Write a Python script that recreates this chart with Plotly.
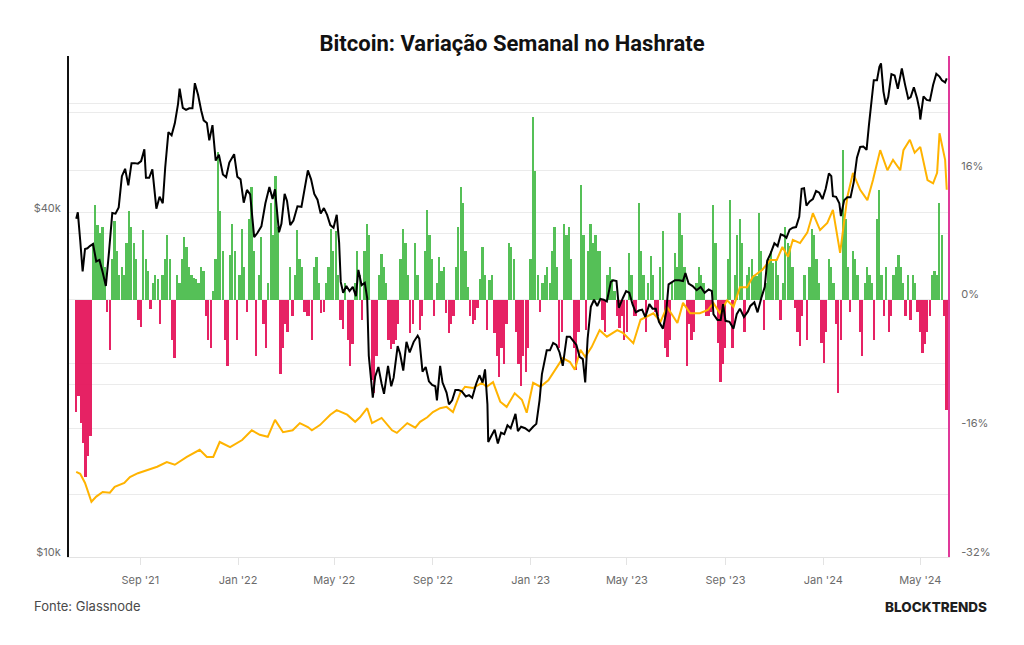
import plotly.graph_objects as go
import pandas as pd

# ---------------- DATA ----------------
title_text = "Bitcoin: Variação Semanal no Hashrate"
source_text = "Fonte: Glassnode"
brand_text = "BLOCKTRENDS"

# weekly hashrate change (%), one bar every 3 days starting 2021-06-13
bar_start = "2021-06-13"
hash_change = [
    -14, -12, -15.4, -17.8, -22, -19.5, -17, 7, 11.7, 9.2, 8.3, 9, 4, -1.5, -6.3, 5, 9.7, 6, 3, 4,
    3, 7, 11, 9, 7, 5, -2.5, -3.4, 8.6, 5, 3.5, -1.2, 2, 3, 2.5, -3, 3, 5, 8, 5,
    -5, -7.3, 3, 2, 5, 7.8, 6.5, 4, 3, 2.7, 2.5, 2, 4, 3.5, -2, -5, -6, 1, 5, 18.3,
    11, 6, -5, -8.3, 5.5, 9.4, 6, -5, 3, 8.8, 4, -1.5, 10, 14, 6, -7, 3, 7.8, -3, -6,
    2, 12, 8, 15.4, 9, -9.2, -6, -3, -4, 4, -2, 3, 8.6, 5, 4, -1.5, -2, -2,
    -5, 4, 5.3, 2, -1.7, -1.5, 2, 4, 8.8, 6, 8.5, 3, -2.5, -3.7, 2, -5, -8.3, -5.5, 2, 6,
    3, -2.5, 6, 9.4, 8, -10, -11.6, -7, 3, 5.7, 4, 2, -5, -6.2, -5.5, -5, -3, 5, 8.8, 7,
    3, -4.2, -3, 7, 3, -3.8, -2, 6, 11.1, 8, 5, -2, 2, 5.3, 3.5, 4, -1.7, -4.2, -3, -2,
    4, 9, 14, 12, 6, 1.5, -2, -3, -2.5, -1, 2.5, 6.5, 3, -3.8, 2.4, 3, -4.2, -7, -9.6, -6,
    -8, -3, 7, 6.5, 5, -4, -8, -10.8, -7, -9, -6, 5, 22.7, 16, 3, -1.5, 2, 3, 4, 2,
    6, 9, 4, -6, -4, 9.4, 8, 9, 5, -6, -8.7, -4, 14.2, 8, -3.8, 6, 9.4, 7, 8, 6,
    6, -2.5, -4, 3, 4, 2.5, 1, -2, -3.5, -2, -5, -4, 5.8, 3, -2, -2, 12, 6, 3, -4,
    2, 5.4, 3, -1.5, -2, 4, 8.5, -6, -7.2, -5, 2, 5.8, 4, 10.8, 8, 4, -8.3, -3, -5, -4,
    2, 4, 3, 2, -2, -2, -1.5, 11.8, 7, -5.4, -10.3, -8, -6, 5, 12.4, -6, 3, 8, 10, 7,
    -4, 3, 4, 5, 3, 2.9, 10.8, 6, -3.8, 2, 5, 6, 4.5, 5, 3, -2.5, 2, 9, 7, 6.6,
    4, -1, -4, -5.8, -2, 3, -5, 4, 8.7, 8, 5, 2, -5.4, -7.9, -4, 5, 4, 2, -3, -11.6,
    -5, 18.6, 10, 4, -1.5, 6, 5, 3, -4, -7, 2, 4, 3, 2, -5, 10, 13.6, 3, -2, 4,
    -4, -2, 3, 4, 5.5, 4, 2, -2, 3, -2.5, 3, 2, -1.5, -4, -6.6, -5.5, -4, -2, 3, 3.5,
    3, 12, 8, -2, -13.7,
]

price_dates = [
    "2021-06-13", "2021-06-15", "2021-06-18", "2021-06-21", "2021-06-24", "2021-06-27", "2021-06-30",
    "2021-07-04", "2021-07-08", "2021-07-12", "2021-07-16", "2021-07-20", "2021-07-24", "2021-07-28",
    "2021-08-01", "2021-08-05", "2021-08-09", "2021-08-13", "2021-08-17", "2021-08-21", "2021-08-25",
    "2021-08-29", "2021-09-02", "2021-09-06", "2021-09-08", "2021-09-12", "2021-09-16", "2021-09-21",
    "2021-09-25", "2021-09-29", "2021-10-02", "2021-10-06", "2021-10-10", "2021-10-14", "2021-10-18",
    "2021-10-20", "2021-10-24", "2021-10-28", "2021-11-01", "2021-11-05", "2021-11-08", "2021-11-12",
    "2021-11-16", "2021-11-19", "2021-11-23", "2021-11-26", "2021-11-30", "2021-12-04", "2021-12-08",
    "2021-12-13", "2021-12-17", "2021-12-21", "2021-12-27", "2021-12-31", "2022-01-04", "2022-01-08",
    "2022-01-12", "2022-01-16", "2022-01-21", "2022-01-25", "2022-01-30", "2022-02-04", "2022-02-09",
    "2022-02-13", "2022-02-16", "2022-02-21", "2022-02-24", "2022-02-28", "2022-03-03", "2022-03-07",
    "2022-03-11", "2022-03-16", "2022-03-21", "2022-03-25", "2022-03-29", "2022-04-02", "2022-04-06",
    "2022-04-10", "2022-04-14", "2022-04-18", "2022-04-22", "2022-04-26", "2022-04-30", "2022-05-04",
    "2022-05-07", "2022-05-09", "2022-05-12", "2022-05-16", "2022-05-20", "2022-05-24", "2022-05-28",
    "2022-05-31", "2022-06-04", "2022-06-08", "2022-06-11", "2022-06-13", "2022-06-16", "2022-06-18",
    "2022-06-21", "2022-06-25", "2022-06-29", "2022-07-02", "2022-07-07", "2022-07-11", "2022-07-14",
    "2022-07-19", "2022-07-22", "2022-07-26", "2022-07-30", "2022-08-03", "2022-08-08", "2022-08-13",
    "2022-08-15", "2022-08-19", "2022-08-23", "2022-08-27", "2022-08-31", "2022-09-04", "2022-09-06",
    "2022-09-10", "2022-09-13", "2022-09-18", "2022-09-21", "2022-09-25", "2022-09-29", "2022-10-03",
    "2022-10-07", "2022-10-12", "2022-10-16", "2022-10-20", "2022-10-25", "2022-10-29", "2022-11-02",
    "2022-11-05", "2022-11-08", "2022-11-09", "2022-11-13", "2022-11-17", "2022-11-21", "2022-11-25",
    "2022-11-29", "2022-12-03", "2022-12-07", "2022-12-13", "2022-12-16", "2022-12-20", "2022-12-25",
    "2022-12-30", "2023-01-04", "2023-01-08", "2023-01-12", "2023-01-15", "2023-01-21", "2023-01-25",
    "2023-01-29", "2023-02-02", "2023-02-06", "2023-02-10", "2023-02-15", "2023-02-19", "2023-02-23",
    "2023-02-27", "2023-03-03", "2023-03-07", "2023-03-10", "2023-03-13", "2023-03-17", "2023-03-21",
    "2023-03-25", "2023-03-29", "2023-04-02", "2023-04-06", "2023-04-11", "2023-04-14", "2023-04-18",
    "2023-04-21", "2023-04-26", "2023-04-30", "2023-05-04", "2023-05-08", "2023-05-12", "2023-05-16",
    "2023-05-20", "2023-05-24", "2023-05-29", "2023-06-02", "2023-06-06", "2023-06-10", "2023-06-15",
    "2023-06-19", "2023-06-22", "2023-06-26", "2023-06-30", "2023-07-05", "2023-07-10", "2023-07-13",
    "2023-07-17", "2023-07-22", "2023-07-27", "2023-08-01", "2023-08-06", "2023-08-11", "2023-08-15",
    "2023-08-17", "2023-08-22", "2023-08-26", "2023-08-29", "2023-09-01", "2023-09-06", "2023-09-11",
    "2023-09-15", "2023-09-19", "2023-09-24", "2023-09-29", "2023-10-02", "2023-10-07", "2023-10-11",
    "2023-10-16", "2023-10-20", "2023-10-23", "2023-10-27", "2023-11-01", "2023-11-05", "2023-11-09",
    "2023-11-13", "2023-11-16", "2023-11-20", "2023-11-24", "2023-11-28", "2023-12-02", "2023-12-05",
    "2023-12-08", "2023-12-11", "2023-12-15", "2023-12-19", "2023-12-23", "2023-12-27", "2023-12-31",
    "2024-01-04", "2024-01-08", "2024-01-11", "2024-01-13", "2024-01-17", "2024-01-21", "2024-01-23",
    "2024-01-27", "2024-01-31", "2024-02-04", "2024-02-08", "2024-02-12", "2024-02-16", "2024-02-20",
    "2024-02-24", "2024-02-27", "2024-02-29", "2024-03-04", "2024-03-08", "2024-03-11", "2024-03-13",
    "2024-03-16", "2024-03-19", "2024-03-22", "2024-03-26", "2024-03-30", "2024-04-03", "2024-04-08",
    "2024-04-12", "2024-04-16", "2024-04-19", "2024-04-23", "2024-04-27", "2024-04-30", "2024-05-01",
    "2024-05-05", "2024-05-09", "2024-05-13", "2024-05-17", "2024-05-21", "2024-05-25", "2024-05-28",
    "2024-06-01", "2024-06-03",
]
price_values = [
    39100, 40100, 35800, 31600, 34600, 34700, 35000,
    35300, 32900, 33100, 31500, 29800, 34300, 40000,
    39900, 40900, 46400, 47800, 44700, 48900, 48900,
    48800, 49300, 51700, 46100, 46100, 47700, 40700,
    42700, 41600, 48000, 55400, 54700, 57400, 62000,
    66000, 61100, 60600, 61000, 61000, 67500, 64400,
    60400, 58100, 57500, 53600, 57000, 49400, 50600,
    46700, 46200, 49000, 50700, 46300, 45800, 41700,
    43900, 43100, 36300, 36900, 37900, 41600, 44400,
    42300, 44000, 37000, 38300, 43200, 42000, 38100,
    38800, 41100, 41000, 44300, 47500, 45800, 43200,
    42200, 39900, 40800, 39700, 38100, 37700, 39700,
    35500, 30300, 29000, 29800, 29200, 29700, 28600,
    31800, 29900, 30200, 28400, 22500, 20400, 19000,
    20700, 21500, 20100, 19300, 21600, 19900, 20600,
    23400, 22700, 21200, 23800, 22800, 23800, 24400,
    24100, 21100, 21500, 20300, 20000, 19900, 18800,
    21600, 20200, 19400, 18500, 18800, 19600, 19600,
    19500, 19100, 19200, 19000, 20100, 20800, 20200,
    21300, 18500, 15900, 16300, 16700, 15800, 16500,
    16400, 17000, 16800, 17800, 16600, 16900, 16800,
    16600, 16900, 17100, 18800, 20900, 23000, 23000,
    23700, 23500, 22800, 21600, 24300, 24300, 23900,
    23500, 22400, 22200, 20200, 24100, 27400, 28200,
    27500, 28300, 28200, 28000, 30300, 30500, 30400,
    27300, 28400, 29200, 29000, 27700, 26800, 27000,
    27100, 26300, 27700, 27200, 27200, 25800, 25100,
    26800, 30000, 30300, 30500, 30500, 30400, 31400,
    30100, 29800, 29300, 29700, 29000, 29400, 29200,
    26600, 26000, 26000, 27700, 25900, 25800, 25100,
    26600, 27200, 26300, 26900, 27500, 27900, 26800,
    28500, 29700, 33000, 33900, 35400, 35000, 36700,
    36500, 36200, 37400, 37700, 37800, 39400, 44100,
    44200, 41200, 41900, 42300, 43700, 43400, 42300,
    44100, 46900, 46400, 42800, 42700, 41600, 39500,
    42100, 42600, 42600, 45300, 50000, 52200, 52300,
    51600, 57100, 61200, 68300, 68300, 72100, 73100,
    65300, 61900, 63800, 70000, 69600, 66000, 71600,
    67100, 63400, 63800, 66400, 63500, 60600, 58300,
    64000, 63100, 62900, 67000, 70100, 69300, 68300,
    67700, 68800,
]

hash_dates = [
    "2021-06-13", "2021-06-18", "2021-06-24", "2021-07-02", "2021-07-08", "2021-07-16", "2021-07-25",
    "2021-07-31", "2021-08-12", "2021-08-19", "2021-08-29", "2021-09-09", "2021-09-22", "2021-10-04",
    "2021-10-14", "2021-10-29", "2021-11-14", "2021-11-23", "2021-12-01", "2021-12-09", "2021-12-22",
    "2022-01-06", "2022-01-18", "2022-01-28", "2022-02-07", "2022-02-16", "2022-02-26", "2022-03-10",
    "2022-03-19", "2022-03-29", "2022-04-03", "2022-04-13", "2022-04-26", "2022-05-04", "2022-05-17",
    "2022-05-27", "2022-06-02", "2022-06-11", "2022-06-17", "2022-06-29", "2022-07-12", "2022-07-18",
    "2022-07-31", "2022-08-10", "2022-08-16", "2022-08-25", "2022-09-01", "2022-09-10", "2022-09-18",
    "2022-09-26", "2022-10-05", "2022-10-11", "2022-10-21", "2022-11-01", "2022-11-07", "2022-11-15",
    "2022-11-24", "2022-12-02", "2022-12-12", "2022-12-21", "2022-12-27", "2023-01-04", "2023-01-13",
    "2023-01-23", "2023-02-03", "2023-02-10", "2023-02-19", "2023-02-25", "2023-03-04", "2023-03-10",
    "2023-03-18", "2023-03-28", "2023-04-06", "2023-04-19", "2023-04-26", "2023-05-09", "2023-05-18",
    "2023-06-03", "2023-06-12", "2023-06-20", "2023-07-03", "2023-07-10", "2023-07-19", "2023-07-31",
    "2023-08-10", "2023-08-17", "2023-08-25", "2023-09-03", "2023-09-11", "2023-09-19", "2023-09-28",
    "2023-10-05", "2023-10-17", "2023-10-27", "2023-11-04", "2023-11-11", "2023-11-18", "2023-11-24",
    "2023-12-03", "2023-12-12", "2023-12-19", "2023-12-28", "2024-01-06", "2024-01-13", "2024-01-22",
    "2024-01-31", "2024-02-07", "2024-02-16", "2024-02-25", "2024-03-03", "2024-03-12", "2024-03-21",
    "2024-03-28", "2024-04-06", "2024-04-10", "2024-04-18", "2024-04-24", "2024-05-01", "2024-05-10",
    "2024-05-17", "2024-05-22", "2024-05-25", "2024-06-01", "2024-06-03",
]
hash_values = [
    134, 131, 117, 88, 96, 103, 102,
    111, 117, 126, 132, 137, 142, 149,
    145, 157, 168, 157, 157, 180, 172,
    183, 198, 191, 188, 214, 195, 198,
    209, 203, 198, 206, 222, 229, 222,
    211, 218, 232, 209, 217, 198, 194,
    209, 202, 211, 218, 226, 232, 234,
    226, 255, 265, 263, 271, 265, 272,
    242, 234, 255, 245, 225, 271, 265,
    275, 295, 309, 303, 291, 322, 311,
    326, 352, 342, 352, 348, 332, 368,
    378, 365, 388, 363, 394, 378, 378,
    383, 394, 378, 398, 388, 418, 418,
    434, 445, 460, 460, 480, 465, 491,
    486, 502, 532, 506, 517, 537, 471,
    557, 594, 568, 552, 583, 629, 598,
    614, 598, 629, 645, 625, 634, 583,
    578, 594, 655, 614, 568,
]

x_tick_vals = ["2021-09-01", "2022-01-01", "2022-05-01", "2022-09-01", "2023-01-01",
               "2023-05-01", "2023-09-01", "2024-01-01", "2024-05-01"]
x_tick_text = ["Sep '21", "Jan '22", "May '22", "Sep '22", "Jan '23",
               "May '23", "Sep '23", "Jan '24", "May '24"]
price_tick_vals = [10000, 20000, 40000, 60000]
price_tick_text = ["$10k", "", "$40k", ""]
pct_tick_vals = [-32, -16, 0, 16]
pct_tick_text = ["-32%", "-16%", "0%", "16%"]
hash_grid_vals = [100, 300, 500, 700]

# ---------------- STYLE ----------------
GREEN = "#4cbd4f"
RED = "#e5175c"
ORANGE = "#ffb300"
PINK = "#e0399a"
GRID = "#ebebeb"
LABEL = "#6b6b6b"
FONT = "Inter"

bar_dates = pd.date_range(bar_start, periods=len(hash_change), freq="3D")
bar_colors = [GREEN if v >= 0 else RED for v in hash_change]
bar_width_ms = 2.2 * 24 * 3600 * 1000

fig = go.Figure()
fig.add_trace(go.Bar(
    x=bar_dates, y=hash_change, marker=dict(color=bar_colors, line=dict(width=0)),
    width=bar_width_ms, opacity=0.95, yaxis="y", showlegend=False, hoverinfo="skip",
))
fig.add_trace(go.Scatter(
    x=hash_dates, y=hash_values, mode="lines", line=dict(color=ORANGE, width=2),
    yaxis="y2", showlegend=False,
))
fig.add_trace(go.Scatter(
    x=price_dates, y=price_values, mode="lines", line=dict(color="#000000", width=2),
    yaxis="y3", showlegend=False,
))

fig.update_layout(
    width=1024, height=645,
    margin=dict(l=69, r=76, t=56, b=88),
    paper_bgcolor="white", plot_bgcolor="white",
    font=dict(family=FONT, color=LABEL, size=11),
    bargap=0,
    title=dict(text="<b>" + title_text + "</b>", x=0.5, xanchor="center",
               y=1 - 43 / 645, yanchor="middle",
               font=dict(family="Roboto", size=22, color="#111111")),
    xaxis=dict(
        type="date", range=["2021-06-04", "2024-06-04 14:00"],
        tickvals=x_tick_vals, ticktext=x_tick_text,
        showgrid=False, zeroline=False,
        showline=True, linecolor="#e3e3e3", linewidth=1,
        ticks="outside", ticklen=7, tickcolor="#e3e3e3", tickwidth=1,
        tickfont=dict(size=11, color=LABEL), ticklabelstandoff=6,
    ),
    yaxis=dict(
        side="right", range=[-32, 30.26],
        tickvals=pct_tick_vals, ticktext=pct_tick_text,
        showgrid=True, gridcolor=GRID, gridwidth=1, zeroline=False,
        showline=True, linecolor=PINK, linewidth=2,
        ticks="", tickfont=dict(size=11, color=LABEL),
        ticklabelstandoff=9, ticklabelshift=-5,
    ),
    yaxis2=dict(
        overlaying="y", range=[3.08, 773.8], tickvals=hash_grid_vals,
        showgrid=True, gridcolor=GRID, gridwidth=1, zeroline=False,
        showticklabels=False, showline=False, ticks="",
    ),
    yaxis3=dict(
        overlaying="y", side="left", type="log", range=[4.0, 4.8768],
        tickvals=price_tick_vals, ticktext=price_tick_text,
        showgrid=True, gridcolor=GRID, gridwidth=1, zeroline=False,
        showline=True, linecolor="#111111", linewidth=2,
        ticks="", tickfont=dict(size=11, color=LABEL),
        ticklabelstandoff=4, ticklabelshift=-5,
    ),
    annotations=[
        dict(text=source_text, xref="paper", yref="paper", x=(32 - 69) / 879, y=-(606 - 557) / 501,
             xanchor="left", yanchor="middle", showarrow=False,
             font=dict(family=FONT, size=13, color="#4a4a4a")),
        dict(text=brand_text, xref="paper", yref="paper", x=(989 - 69) / 879, y=-(607 - 557) / 501,
             xanchor="right", yanchor="middle", showarrow=False,
             font=dict(family="Inter", size=13.5, color="#1e1e1e", weight=800)),
    ],
)

fig.write_html("out.html")
